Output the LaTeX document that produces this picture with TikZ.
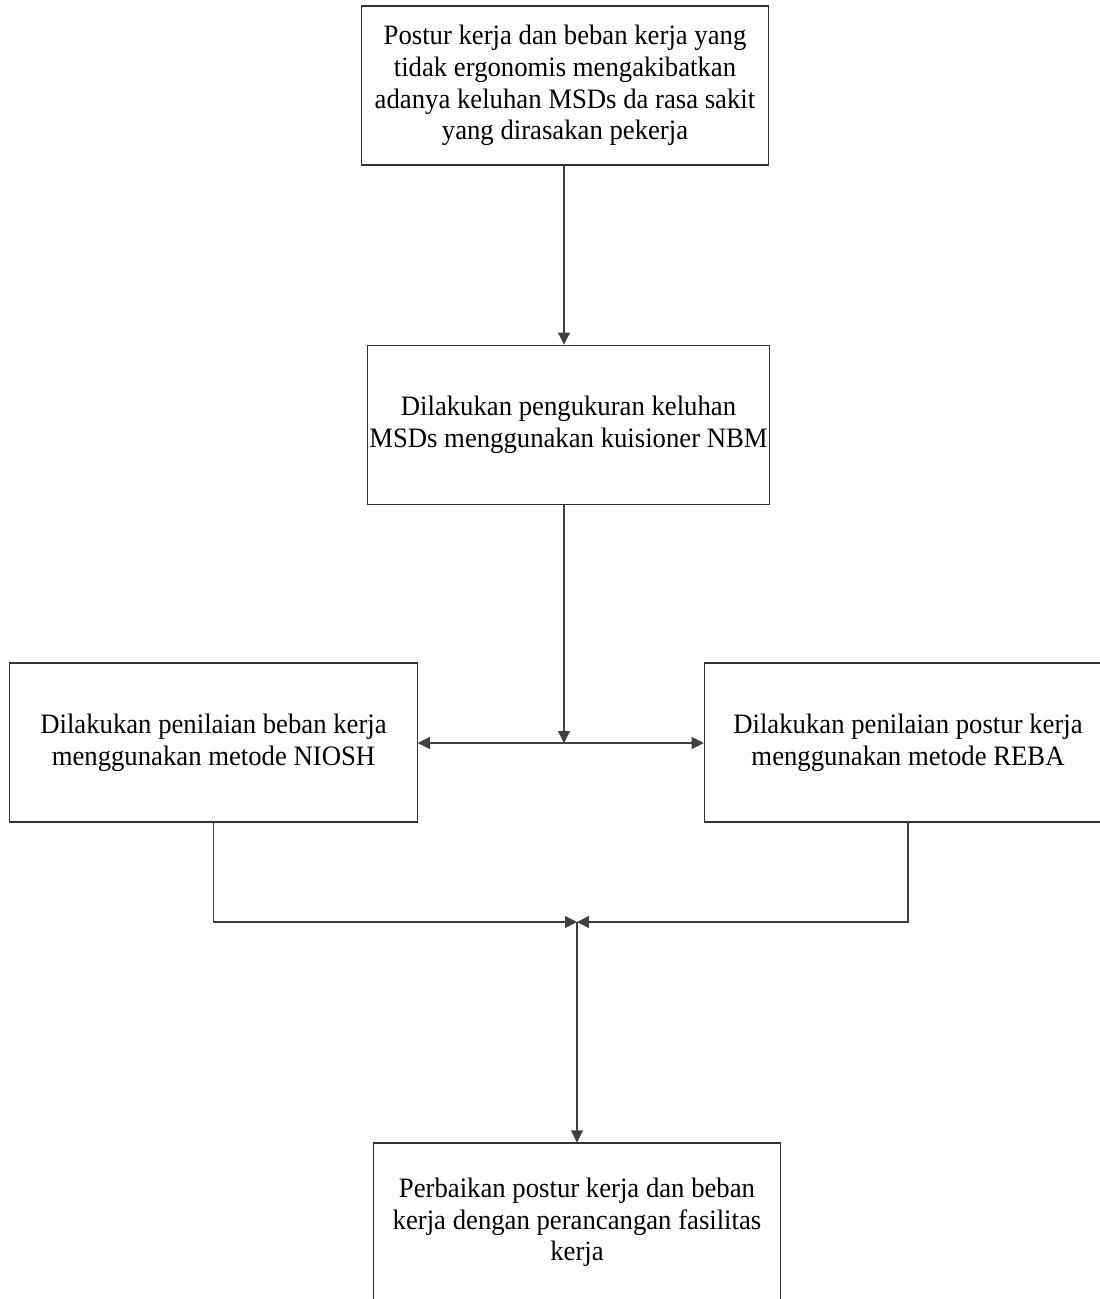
\documentclass[tikz,border=0pt]{standalone}
\usepackage{fontspec}
\setmainfont[FakeStretch=0.95]{Liberation Serif}
\usetikzlibrary{arrows.meta, positioning, calc}

\begin{document}
\begin{tikzpicture}[
        box/.style={rectangle, draw=black!80, line width=0.6pt, minimum width=8.15cm, minimum height=3.18cm,
                    inner xsep=1pt, align=center, font=\fontsize{16}{18}\selectfont},
        arrow/.style={-{Triangle[length=0.24cm, width=0.24cm]}, line width=0.6pt, draw=black!75},
        line/.style={line width=0.6pt, draw=black!75}
    ]
        \useasboundingbox (0,0) rectangle (22,-25.98);
        \clip (0,0) rectangle (22,-25.98);

        % Boxes
        \node[box] (problem) at (11.3,-1.71) {Postur kerja dan beban kerja yang\\ tidak ergonomis mengakibatkan\\ adanya keluhan MSDs da rasa sakit\\ yang dirasakan pekerja};
        \node[box, below=3.58cm of problem, xshift=0.07cm, minimum width=7.98cm] (nbm) {Dilakukan pengukuran keluhan\\ MSDs menggunakan kuisioner NBM};
        \node[box] (niosh) at (4.27,-14.85) {Dilakukan penilaian beban kerja\\ menggunakan metode NIOSH};
        \node[box] (reba) at (18.16,-14.85) {Dilakukan penilaian postur kerja\\ menggunakan metode REBA};
        \node[box] (design) at (11.54,-24.45) {Perbaikan postur kerja dan beban\\ kerja dengan perancangan fasilitas\\ kerja};

        % Junctions
        \coordinate (split) at (11.28,-14.86);
        \coordinate (merge) at (11.54,-18.44);

        % Connections
        \draw[arrow] (problem.south -| split) -- (nbm.north -| split);
        \draw[arrow] (nbm.south -| split) -- (split);
        \draw[arrow] (split) -- (niosh.east |- split);
        \draw[arrow] (split) -- (reba.west |- split);
        \draw[arrow] (niosh.south) |- (merge);
        \draw[arrow] (reba.south) |- (merge);
        \draw[arrow] (merge) -- (design.north);
    \end{tikzpicture}
\end{document}
